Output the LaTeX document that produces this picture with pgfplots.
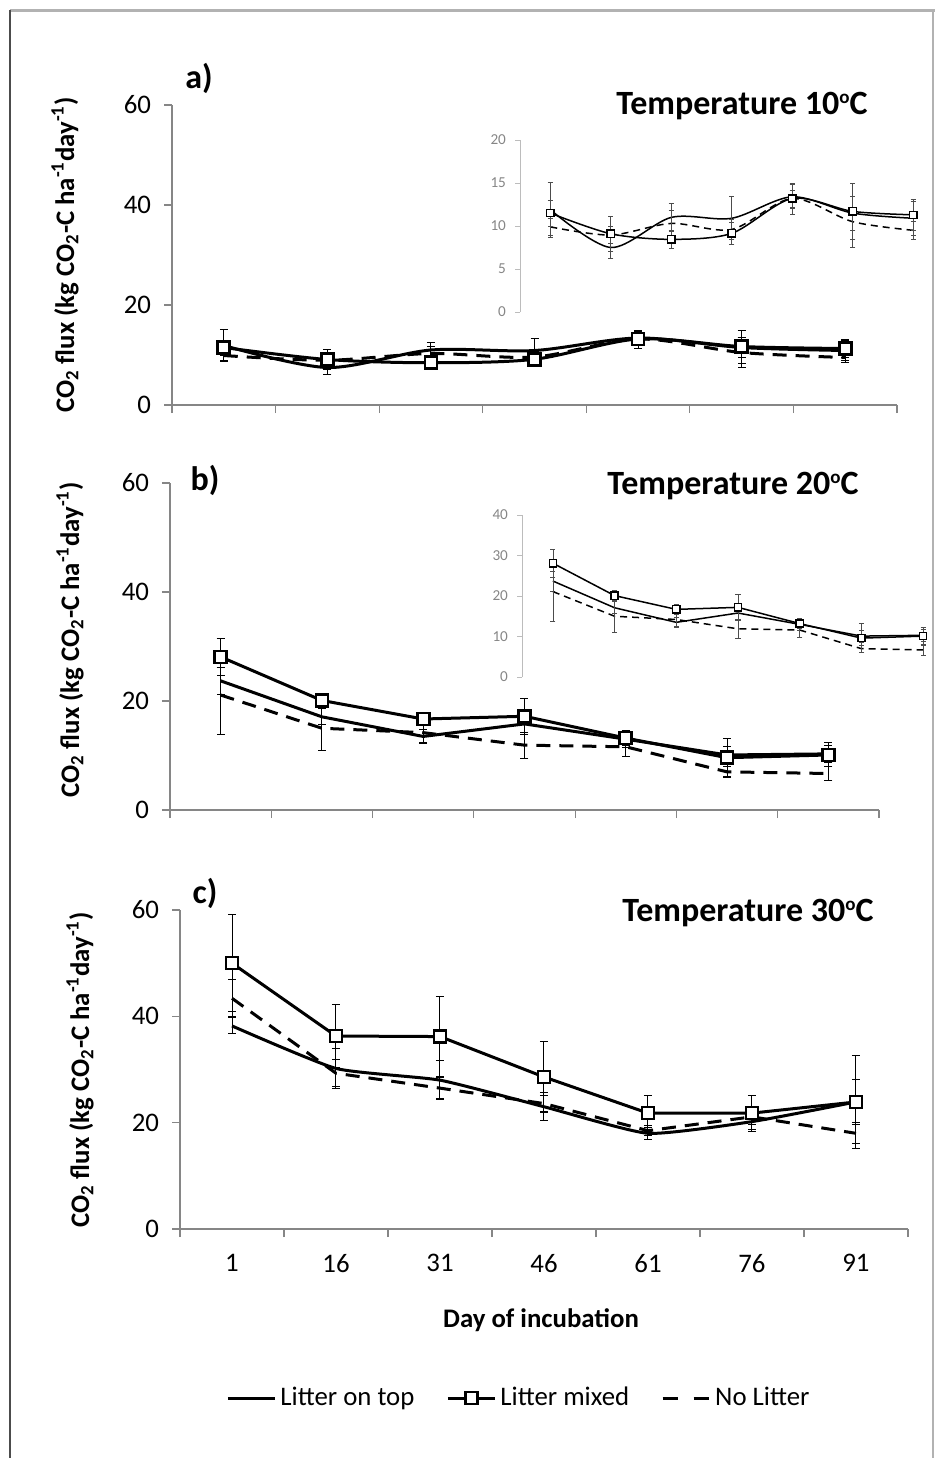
\documentclass[border=0pt]{standalone}
\usepackage{fontspec}
\setmainfont{Carlito}
\usepackage{pgfplots}
\pgfplotsset{compat=1.18}
\definecolor{axgray}{RGB}{134,134,134}
\pgfplotsset{
  mainax/.style={
    scale only axis, axis x line=bottom, axis y line=left,
    axis line style={draw=axgray, line width=0.6pt, -},
    xmin=0.5, xmax=7.5, ymin=0, ymax=60, ytick={0,20,40,60},
    xtick={0.5,1.5,...,7.5}, xticklabels={},
    tick align=outside, major tick length=4pt,
    tick style={draw=axgray, line width=0.6pt},
    yticklabel style={font=\fontsize{13.4}{15}\selectfont, xshift=-3pt},
    /pgf/number format/assume math mode=true,
    clip=false,
  },
  insetax/.style={
    scale only axis, axis x line=none, axis y line=left,
    axis line style={draw=axgray!55, line width=0.5pt, -},
    xmin=0.5, xmax=7.5, ymin=0,
    tick align=outside, major tick length=2.5pt,
    tick style={draw=axgray!55, line width=0.5pt},
    yticklabel style={font=\fontsize{7.6}{8}\selectfont, text=axgray, xshift=-1pt},
    /pgf/number format/assume math mode=true,
    clip=false,
  },
  ebar/.style={error bars/.cd, y dir=both, y explicit,
    error bar style={line width=0.5pt, solid, black},
    error mark options={rotate=90, line width=0.5pt, mark size=2pt, solid, black}},
  iebar/.style={error bars/.cd, y dir=both, y explicit,
    error bar style={line width=0.35pt, solid, black!70},
    error mark options={rotate=90, line width=0.35pt, mark size=1.3pt, solid, black!70}},
  ontop/.style={black, line width=1.5pt, mark=none},
  mixed/.style={black, line width=1.5pt, mark=square*, mark size=3pt,
    mark options={fill=white, draw=black, line width=1.3pt, solid}},
  nolit/.style={black, line width=1.5pt, mark=none, dash pattern=on 7pt off 4.5pt},
  iontop/.style={black, line width=0.75pt, mark=none},
  imixed/.style={black, line width=0.75pt, mark=square*, mark size=1.8pt,
    mark options={fill=white, draw=black, line width=0.7pt, solid}},
  inolit/.style={black, line width=0.75pt, mark=none, dash pattern=on 3.5pt off 2.5pt},
}
\newcommand{\ylab}{CO\textsubscript{2} flux (kg CO\textsubscript{2}-C ha\textsuperscript{-1}day\textsuperscript{-1})}
\newcommand{\dego}{\raisebox{5.5pt}{\fontsize{9.5}{10}\selectfont o}}
\begin{document}
\begin{tikzpicture}
\path[use as bounding box] (0pt,0pt) rectangle (467.5pt,-729pt);
\draw[gray!60, line width=1.5pt] (5pt,-5pt) -- (467.5pt,-5pt);
\draw[black!70, line width=0.6pt] (5pt,-5pt) -- (5pt,-729pt);
\draw[gray!60, line width=0.8pt] (466.5pt,-5pt) -- (466.5pt,-729pt);

% ---------- Panel a ----------
\begin{axis}[mainax, at={(86pt,-202.5pt)}, anchor=south west, width=362.5pt, height=150pt]
\addplot[ontop, smooth, ebar] coordinates {
 (1,11.9) +- (0,3.2) (2,7.5) +- (0,1.3) (3,11.0) +- (0,1.6) (4,10.9) +- (0,2.5)
 (5,13.4) +- (0,1.4) (6,11.5) +- (0,2.0) (7,10.9) +- (0,2.0)};
\addplot[nolit, smooth, ebar] coordinates {
 (1,9.9) +- (0,1.0) (2,8.95) +- (0,1.0) (3,10.3) +- (0,1.5) (4,9.6) +- (0,1.2)
 (5,13.2) +- (0,1.8) (6,10.5) +- (0,3.0) (7,9.5) +- (0,1.0)};
\addplot[mixed, smooth, ebar] coordinates {
 (1,11.5) +- (0,1.5) (2,9.1) +- (0,2.0) (3,8.45) +- (0,1.0) (4,9.15) +- (0,1.3)
 (5,13.2) +- (0,1.0) (6,11.7) +- (0,3.3) (7,11.3) +- (0,1.8)};
\end{axis}
\begin{axis}[insetax, at={(260pt,-156pt)}, anchor=south west, width=211.75pt, height=86pt,
  ymax=20, ytick={0,5,10,15,20}]
\addplot[iontop, smooth, iebar] coordinates {
 (1,11.9) +- (0,3.2) (2,7.5) +- (0,1.3) (3,11.0) +- (0,1.6) (4,10.9) +- (0,2.5)
 (5,13.4) +- (0,1.4) (6,11.5) +- (0,2.0) (7,10.9) +- (0,2.0)};
\addplot[inolit, smooth, iebar] coordinates {
 (1,9.9) +- (0,1.0) (2,8.95) +- (0,1.0) (3,10.3) +- (0,1.5) (4,9.6) +- (0,1.2)
 (5,13.2) +- (0,1.8) (6,10.5) +- (0,3.0) (7,9.5) +- (0,1.0)};
\addplot[imixed, smooth, iebar] coordinates {
 (1,11.5) +- (0,1.5) (2,9.1) +- (0,2.0) (3,8.45) +- (0,1.0) (4,9.15) +- (0,1.3)
 (5,13.2) +- (0,1.0) (6,11.7) +- (0,3.3) (7,11.3) +- (0,1.8)};
\end{axis}

% ---------- Panel b ----------
\begin{axis}[mainax, at={(85pt,-405pt)}, anchor=south west, width=354.5pt, height=163.5pt]
\addplot[ontop, ebar] coordinates {
 (1,23.7) +- (0,2.5) (2,17.1) +- (0,1.5) (3,13.5) +- (0,1.3) (4,15.8) +- (0,1.5)
 (5,13.0) +- (0,1.5) (6,10.1) +- (0,1.5) (7,10.3) +- (0,1.5)};
\addplot[nolit, ebar] coordinates {
 (1,21.1) +- (0,7.3) (2,15.0) +- (0,4.0) (3,14.2) +- (0,1.8) (4,11.9) +- (0,2.4)
 (5,11.6) +- (0,1.7) (6,7.0) +- (0,0.9) (7,6.7) +- (0,1.3)};
\addplot[mixed, ebar] coordinates {
 (1,28.1) +- (0,3.4) (2,20.1) +- (0,1.3) (3,16.7) +- (0,1.2) (4,17.2) +- (0,3.3)
 (5,13.2) +- (0,1.3) (6,9.6) +- (0,3.6) (7,10.1) +- (0,2.2)};
\end{axis}
\begin{axis}[insetax, at={(261pt,-338.5pt)}, anchor=south west, width=216pt, height=81pt,
  ymax=40, ytick={0,10,20,30,40}]
\addplot[iontop, iebar] coordinates {
 (1,23.7) +- (0,2.5) (2,17.1) +- (0,1.5) (3,13.5) +- (0,1.3) (4,15.8) +- (0,1.5)
 (5,13.0) +- (0,1.5) (6,10.1) +- (0,1.5) (7,10.3) +- (0,1.5)};
\addplot[inolit, iebar] coordinates {
 (1,21.1) +- (0,7.3) (2,15.0) +- (0,4.0) (3,14.2) +- (0,1.8) (4,11.9) +- (0,2.4)
 (5,11.6) +- (0,1.7) (6,7.0) +- (0,0.9) (7,6.7) +- (0,1.3)};
\addplot[imixed, iebar] coordinates {
 (1,28.1) +- (0,3.4) (2,20.1) +- (0,1.3) (3,16.7) +- (0,1.2) (4,17.2) +- (0,3.3)
 (5,13.2) +- (0,1.3) (6,9.6) +- (0,3.6) (7,10.1) +- (0,2.2)};
\end{axis}

% ---------- Panel c ----------
\begin{axis}[mainax, at={(90pt,-614.5pt)}, anchor=south west, width=364pt, height=159.5pt,
  extra x ticks={1,2,3,4,5,6,7},
  extra x tick labels={1,16,31,46,61,76,91},
  extra x tick style={major tick length=0pt, tick style={draw=none}},
  xticklabel style={font=\fontsize{13.4}{15}\selectfont, yshift=-9pt},
  legend style={at={(0.467,-0.53)}, anchor=center, draw=none, fill=none,
    legend columns=3, font=\fontsize{13.4}{15}\selectfont,
    /tikz/every even column/.append style={column sep=14pt}},
  legend image code/.code={\draw[mark repeat=2,mark phase=2,#1] plot coordinates {(0pt,0pt) (11.75pt,0pt) (23.5pt,0pt)};},
]
\addplot[ontop, smooth, tension=0.3, ebar] coordinates {
 (1,38.2) +- (0,1.5) (2,30.2) +- (0,3.8) (3,28.0) +- (0,3.7) (4,23.0) +- (0,2.6)
 (5,18.0) +- (0,1.1) (6,20.2) +- (0,1.5) (7,23.9) +- (0,4.3)};
\addlegendentry{Litter on top}
\addplot[mixed, ebar] coordinates {
 (1,50.0) +- (0,9.1) (2,36.3) +- (0,6.0) (3,36.2) +- (0,7.5) (4,28.6) +- (0,6.6)
 (5,21.8) +- (0,3.4) (6,21.8) +- (0,3.4) (7,23.9) +- (0,8.8)};
\addlegendentry{Litter mixed}
\addplot[nolit, legend image post style={dash pattern=on 7.5pt off 8pt}, ebar] coordinates {
 (1,43.4) +- (0,3.5) (2,29.3) +- (0,2.5) (3,26.5) +- (0,2.0) (4,23.6) +- (0,1.5)
 (5,18.5) +- (0,1.0) (6,21.1) +- (0,1.5) (7,18.0) +- (0,2.0)};
\addlegendentry{No Litter}
\end{axis}

% ---------- Labels ----------
\node[font=\bfseries\fontsize{17}{20}\selectfont] at (99.5pt,-39pt) {a)};
\node[font=\bfseries\fontsize{17}{20}\selectfont] at (371pt,-53pt) {Temperature 10\dego C};
\node[font=\bfseries\fontsize{17}{20}\selectfont] at (102.5pt,-240pt) {b)};
\node[font=\bfseries\fontsize{17}{20}\selectfont] at (366.5pt,-243pt) {Temperature 20\dego C};
\node[font=\bfseries\fontsize{17}{20}\selectfont] at (102.5pt,-446.5pt) {c)};
\node[font=\bfseries\fontsize{17}{20}\selectfont] at (374pt,-456.5pt) {Temperature 30\dego C};
\node[rotate=90, font=\bfseries\fontsize{13.4}{15}\selectfont] at (32.5pt,-127.5pt) {\ylab};
\node[rotate=90, font=\bfseries\fontsize{13.4}{15}\selectfont] at (35pt,-320pt) {\ylab};
\node[rotate=90, font=\bfseries\fontsize{13.4}{15}\selectfont] at (40pt,-535pt) {\ylab};
\node[font=\bfseries\fontsize{13.4}{15}\selectfont] at (270.5pt,-660pt) {Day of incubation};
\end{tikzpicture}
\end{document}
